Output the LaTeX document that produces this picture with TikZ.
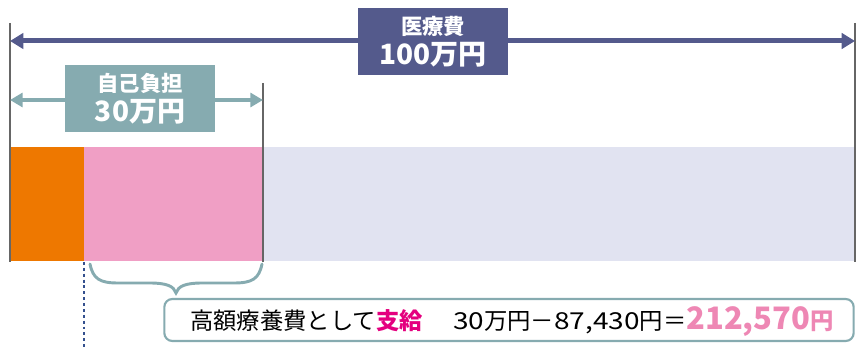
\documentclass[tikz,border=0pt]{standalone}
\usepackage{fontspec}
\newfontfamily\jp{Noto Sans CJK JP}
\usetikzlibrary{arrows.meta}

\definecolor{totalblue}{HTML}{545A8C}
\definecolor{selfteal}{HTML}{86ABB0}
\definecolor{selforange}{HTML}{EE7800}
\definecolor{refundpink}{HTML}{F09FC5}
\definecolor{restlav}{HTML}{E1E3F1}
\definecolor{paymag}{HTML}{E4007F}
\definecolor{payink}{HTML}{EE87B4}
\definecolor{dotblue}{HTML}{34508E}

% wider digits, as in the print
\newcommand{\widenum}[1]{{\addfontfeature{FakeStretch=1.2}#1}}

\begin{document}
\begin{tikzpicture}[x=0.75pt,y=-0.75pt]
    % --- styles ---
    \tikzset{
      sideline/.style={draw=black!60,line width=0.8pt},
      labelbox/.style={minimum width=112.5pt,minimum height=50pt,inner sep=0pt,
        align=center,text=white,font=\jp\bfseries},
      totalarrow/.style={totalblue,line width=3.75pt,
        {Triangle[length=10pt,width=11.5pt]}-{Triangle[length=10pt,width=11.5pt]}},
      selfarrow/.style={selfteal,line width=3.2pt,
        {Triangle[length=9.5pt,width=10.5pt]}-{Triangle[length=9.5pt,width=10.5pt]}},
      notebox/.style={draw=selfteal,line width=1.6pt,rounded corners=6pt,
        minimum width=517pt,minimum height=31.5pt,inner sep=0pt}
    }
    \useasboundingbox (0,0) rectangle (856,349);

    % bar (orange = self, pink = refund, lavender = rest)
    \fill[selforange] (10,147) rectangle (84,261);
    \fill[refundpink] (84,147) rectangle (263,261);
    \fill[restlav]    (263,147) rectangle (855,261);

    % end points
    \coordinate (leftend)  at (10,41);
    \coordinate (rightend) at (855,41);
    \coordinate (selfleft) at (10,100);
    \coordinate (selfright) at (263,100);

    % guide lines
    \draw[sideline] (10,23) -- (10,262);
    \draw[sideline] (855,23) -- (855,262);
    \draw[sideline] (263,83) -- (263,262);
    \draw[dotblue,line width=1.1pt,dash pattern=on 2.2pt off 2.2pt] (84,262) -- (84,349);

    % arrows with their labels
    \draw[totalarrow] (leftend) -- (rightend);
    \node[labelbox,fill=totalblue] (total) at (433,41.5)
      {{\fontsize{16}{16}\selectfont 医療費}\\[3pt]{\fontsize{21}{21}\selectfont 100万円}};
    \draw[selfarrow] (selfleft) -- (selfright);
    \node[labelbox,fill=selfteal] (self) at (140,98.5)
      {{\fontsize{16}{16}\selectfont 自己負担}\\[3pt]{\fontsize{21}{21}\selectfont 30万円}};

    % brace under the pink part
    \draw[selfteal,line width=2.2pt,line cap=round]
      (90,264) .. controls (93,279) and (100,283) .. (118,283) -- (150,283)
      .. controls (166,283) and (174,286) .. (176,293)
      .. controls (178,286) and (186,283) .. (202,283) -- (234,283)
      .. controls (252,283) and (259,279) .. (262,264);

    % payout note
    \node[notebox] (payout) at (509,320) {};
    \node[anchor=base west,inner sep=0pt,font=\jp\fontsize{17.5}{17.5}\selectfont]
      (payouttext) at (190,329)
      {高額療養費として{\bfseries\color{paymag}支給}\hspace{1.3em}\widenum{30}万円－\widenum{87,430}円＝{\bfseries\color{payink}\fontsize{23.2}{23.2}\selectfont 212,570}{\bfseries\color{payink}円}};
\end{tikzpicture}
\end{document}
